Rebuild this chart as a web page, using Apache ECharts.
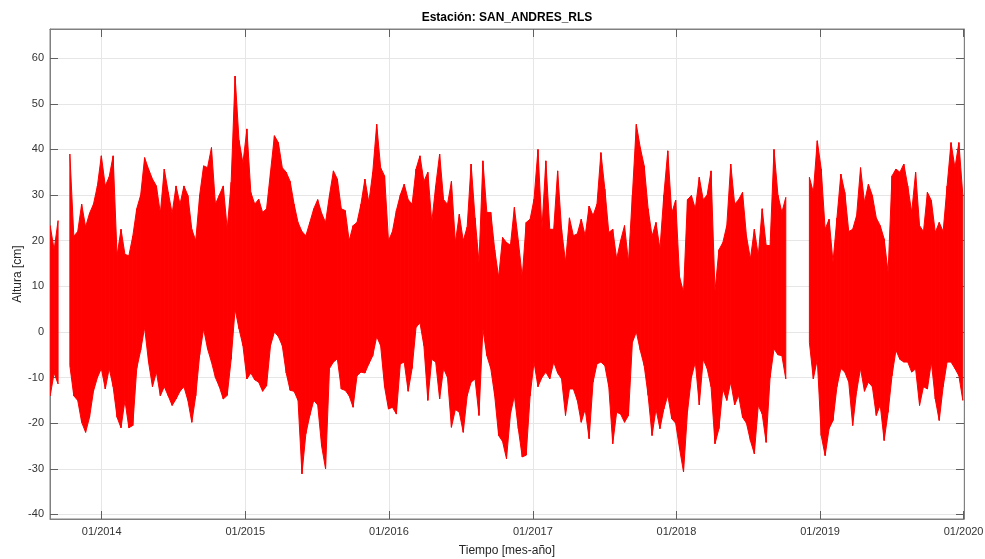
<!DOCTYPE html>
<html>
<head>
<meta charset="utf-8">
<title>Estación: SAN_ANDRES_RLS</title>
<script src="https://cdn.jsdelivr.net/npm/echarts@6/dist/echarts.min.js"></script>
<style>
  html, body { margin: 0; padding: 0; background: #ffffff; }
  #chart { width: 985px; height: 559px; }
</style>
</head>
<body>
<div id="chart"></div>
<script>
// Sea level record, SAN_ANDRES_RLS tide gauge.
// Each entry holds the highest and lowest height (cm) seen in a 10-day window,
// windows starting on 2013-08-23. null marks windows without data.
const stationName = 'SAN_ANDRES_RLS';
const windowStart = Date.UTC(2013, 7, 23);
const windowDays = 10;

const highs = [
  23.3, 18, 24.4, null, null, 39, 21, 22, 28, 23,
  26, 28, 32, 38.6, 32, 34, 38.6, 16.7, 22.5, 17,
  16.7, 21, 27, 30, 38.2, 35.7, 33.5, 32, 26, 35.7,
  30.6, 26, 32, 28, 32, 29.9, 22.5, 20, 30, 36.4,
  36, 40.4, 28, 30, 32, 22.5, 32.8, 56.1, 42, 37,
  44.5, 30.6, 28, 29.1, 26.2, 27, 35, 43, 41.5, 36,
  35, 33, 28, 24, 22, 21.1, 24, 27, 29, 26,
  24, 30, 35.3, 33.5, 27, 26.6, 20, 23.3, 24, 28,
  33.5, 28.4, 35, 45.5, 36, 34.2, 20, 22, 26.6, 30,
  32.4, 29, 28, 35.7, 38.6, 33, 35, 24, 32, 39,
  29, 28, 33, 19.6, 25.8, 20, 23, 36.8, 25, 15.3,
  37.5, 26.2, 26.2, 18, 12, 20.7, 19.6, 19, 27.3, 20,
  12, 24, 24.7, 29.1, 40, 22.5, 37.5, 22.5, 22.5, 35.3,
  22.5, 15.3, 25, 21.1, 21.5, 24.7, 21.1, 27.6, 25.5, 28,
  39.3, 31.3, 21.8, 22.5, 16, 20, 23.3, 15.3, 30, 45.5,
  40.4, 36.4, 27, 21, 24, 18.2, 30, 39.7, 26, 28.9,
  12, 8.7, 29, 29.9, 27, 33.9, 29, 30, 35.3, 9,
  18, 19.6, 23.3, 36.8, 28, 29, 30.6, 21, 16, 22.5,
  16.7, 27, 19, 18.9, 40, 30, 26.2, 29.5, null, null,
  null, null, null, 33.9, 30.6, 41.9, 35.7, 22.5, 24.7, 15.3,
  25, 34.6, 30.6, 22, 22.5, 25.5, 36, 28.4, 32.4, 29.9,
  25, 23.3, 20.4, 13, 34.2, 35.7, 35, 36.8, 32, 26.2,
  35, 23.3, 22, 30.6, 28.8, 21.8, 24, 22, 32, 41.5,
  36, 41.5, 30
];

const lows = [
  -14, -9, -11.4, null, null, -7.4, -14, -15, -19.8, -22,
  -18.7, -13, -10, -8, -12.5, -8, -12, -18.7, -21, -15,
  -21, -20.5, -8, -4, 1, -6.6, -12, -8.8, -14, -12,
  -14, -16.1, -14.7, -13, -12, -15, -19.8, -14, -5, 0.7,
  -3.7, -6.6, -10, -12, -14.7, -13.9, -6, 5, 0.7, -3,
  -10.3, -9, -10.5, -11, -13, -11.8, -3, 0, -1, -3,
  -9, -12.8, -13, -15, -31.1, -22.3, -18.3, -15, -16, -25,
  -30, -8, -6.6, -5.9, -12.5, -12.8, -14, -16.5, -9.6, -8.8,
  -9, -7, -5.2, -1, -3, -12, -16.9, -16.5, -18, -7,
  -6.6, -13, -8, 1, 2, -3, -15, -6, -6.6, -14.7,
  -8, -10, -20.9, -17, -17.6, -22, -14, -11, -10.3, -18.3,
  0.7, -5.2, -8, -14, -22.7, -24, -27.8, -18, -14, -21.2,
  -27.4, -27, -14, -6.6, -12, -10, -8.8, -10.3, -6.6, -9,
  -10.3, -18.3, -12.5, -12.5, -15, -19.8, -16.9, -23.4, -11, -7,
  -6.6, -7.4, -12, -24.5, -17.6, -18, -19.8, -18.3, -2.3, 0,
  -4, -7.4, -13.9, -22.7, -16.9, -21.2, -16.9, -13.9, -19, -20,
  -25.6, -30.7, -17.6, -10, -6.6, -16, -6, -8, -12, -24.5,
  -21.2, -12.5, -15, -11, -16, -13.9, -18.7, -20, -23.8, -26.7,
  -16.1, -18, -24.2, -10, -3.7, -5, -5.2, -10.3, null, null,
  null, null, null, -2.3, -10.3, -6, -22.7, -27.1, -21.2, -19.4,
  -12, -8, -8.8, -11, -20.5, -13, -8, -13, -11, -12,
  -18.3, -16, -23.8, -17.6, -9.6, -4, -6, -6.6, -6.6, -8.8,
  -8.1, -16.1, -12, -12.5, -6.6, -14.7, -19.4, -12, -6.6, -6.6,
  -8, -9.6, -15
];

const yTicks = [-40, -30, -20, -10, 0, 10, 20, 30, 40, 50, 60];
const xTickYears = [2014, 2015, 2016, 2017, 2018, 2019, 2020];

const DAY = 86400000;
const FONT = '"Liberation Sans", Arial, Helvetica, sans-serif';
const RED = '#ff0000';

// x is a linear time scale in milliseconds (UTC)
const xMin = Date.UTC(2013, 7, 22, 12);
const xMax = Date.UTC(2020, 0, 2);
const yMin = -41;
const yMax = 66.4;

const times = highs.map((_, i) => windowStart + i * windowDays * DAY);
// one item per window: [time, low, high, next time, next low, next high]
const bandData = times.slice(0, -1).map((t, i) => [
  t, lows[i], highs[i], times[i + 1], lows[i + 1], highs[i + 1]
]).filter(d => d[1] != null && d[2] != null && d[4] != null && d[5] != null);
const xTicks = xTickYears.map(y => Date.UTC(y, 0, 1));

function monthYear(v) {
  const d = new Date(v);
  const m = d.getUTCMonth() + 1;
  return (m < 10 ? '0' + m : '' + m) + '/' + d.getUTCFullYear();
}

// Filled quadrilateral between the low and high envelopes of two neighbouring windows
function renderBand(params, api) {
  const t0 = api.value(0), l0 = api.value(1), h0 = api.value(2);
  const t1 = api.value(3), l1 = api.value(4), h1 = api.value(5);
  const pts = [api.coord([t0, l0]), api.coord([t1, l1]), api.coord([t1, h1]), api.coord([t0, h0])];
  return {
    type: 'polygon',
    shape: { points: pts },
    style: { fill: RED, stroke: RED, lineWidth: 1 },
    silent: true
  };
}

const axisColor = '#808080';
const gridColor = '#e6e6e6';
const labelColor = '#333333';
const tickColor = '#606060';

const chart = echarts.init(document.getElementById('chart'), null, { renderer: 'canvas' });

chart.setOption({
  animation: false,
  backgroundColor: '#ffffff',
  grid: {
    left: 50, right: 21, top: 29, bottom: 40,
    outerBoundsMode: 'none',
    containLabel: false,
    show: true, borderColor: axisColor, borderWidth: 1, backgroundColor: 'transparent'
  },
  graphic: [{
    type: 'text',
    x: 507, y: 18,
    style: {
      text: 'Estación: ' + stationName,
      fill: '#000000',
      font: 'bold 12px ' + FONT,
      textAlign: 'center',
      textVerticalAlign: 'middle'
    }
  }],
  xAxis: [{
    type: 'value',
    min: xMin, max: xMax,
    name: 'Tiempo [mes-año]',
    nameLocation: 'middle',
    nameGap: 26,
    nameMoveOverlap: false,
    nameTextStyle: { color: '#262626', fontSize: 12, fontFamily: FONT },
    axisLine: { show: true, onZero: false, lineStyle: { color: axisColor, width: 1 } },
    axisTick: { show: true, inside: true, length: 8, customValues: xTicks, lineStyle: { color: tickColor } },
    axisLabel: { customValues: xTicks, formatter: monthYear, color: labelColor, fontSize: 11, fontFamily: FONT, margin: 7 },
    splitLine: { show: true, lineStyle: { color: gridColor, width: 1 } }
  }, {
    type: 'value',
    position: 'top',
    min: xMin, max: xMax,
    axisLine: { show: true, onZero: false, lineStyle: { color: axisColor, width: 1 } },
    axisTick: { show: true, inside: true, length: 8, customValues: xTicks, lineStyle: { color: tickColor } },
    axisLabel: { show: false, customValues: xTicks },
    splitLine: { show: false }
  }],
  yAxis: [{
    type: 'value',
    min: yMin, max: yMax,
    name: 'Altura [cm]',
    nameLocation: 'middle',
    nameGap: 26,
    nameMoveOverlap: false,
    nameRotate: 90,
    nameTextStyle: { color: '#262626', fontSize: 12, fontFamily: FONT },
    axisLine: { show: true, onZero: false, lineStyle: { color: axisColor, width: 1 } },
    axisTick: { show: true, inside: true, length: 8, customValues: yTicks, lineStyle: { color: tickColor } },
    axisLabel: { customValues: yTicks, color: labelColor, fontSize: 11, fontFamily: FONT, margin: 6 },
    splitLine: { show: true, lineStyle: { color: gridColor, width: 1 } }
  }, {
    type: 'value',
    position: 'right',
    min: yMin, max: yMax,
    axisLine: { show: true, onZero: false, lineStyle: { color: axisColor, width: 1 } },
    axisTick: { show: true, inside: true, length: 8, customValues: yTicks, lineStyle: { color: tickColor } },
    axisLabel: { show: false, customValues: yTicks },
    splitLine: { show: false }
  }],
  series: [{
    name: 'Altura',
    type: 'custom',
    xAxisIndex: 0,
    yAxisIndex: 0,
    clip: true,
    data: bandData,
    encode: { x: [0, 3], y: [1, 2, 4, 5] },
    renderItem: renderBand,
    silent: true
  }]
});
</script>
</body>
</html>
